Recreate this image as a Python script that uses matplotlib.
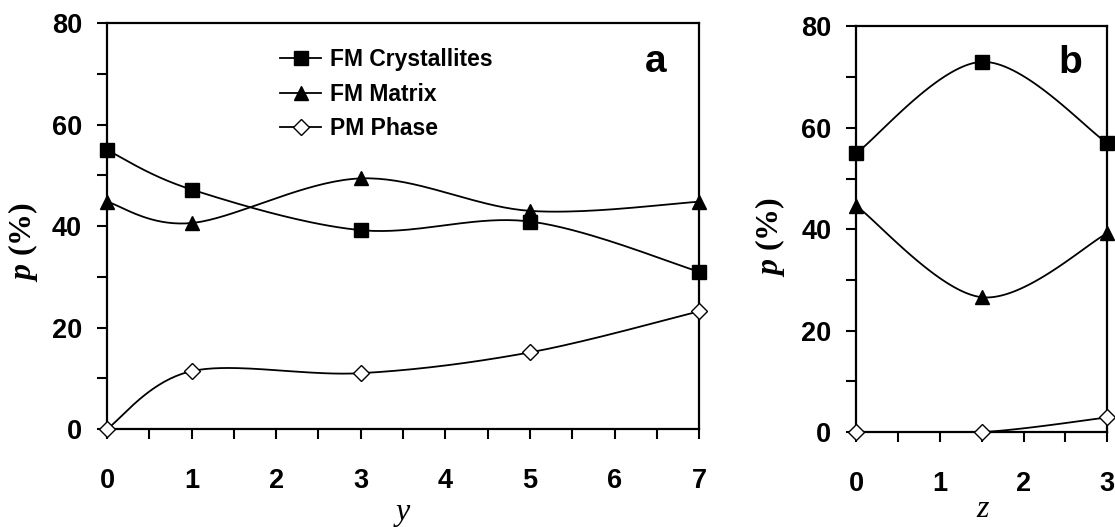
import numpy as np
import matplotlib
matplotlib.use("Agg")
import matplotlib.pyplot as plt
from matplotlib.font_manager import FontProperties

# panel a: composition y
y_vals = [0, 1, 3, 5, 7]
a_crystallites = [55.0, 47.2, 39.2, 40.9, 31.0]
a_matrix = [44.8, 40.6, 49.4, 43.0, 44.8]
a_pm = [0.0, 11.4, 11.0, 15.1, 23.2]

# panel b: composition z
z_vals = [0, 1.5, 3]
b_crystallites = [55.0, 73.0, 57.0]
b_matrix = [44.6, 26.6, 39.2]
b_pm = [0.0, 0.0, 2.9]

labels = ["FM Crystallites", "FM Matrix", "PM Phase"]


def smooth(xs, ys, n=40):
    # spreadsheet-style smoothed line: cubic Bezier through every point
    p = np.column_stack([xs, ys]).astype(float)
    out = [p[:1]]
    t = np.linspace(0, 1, n)[1:, None]
    for i in range(len(p) - 1):
        p0 = p[i - 1] if i > 0 else p[i]
        p3 = p[i + 2] if i + 2 < len(p) else p[i + 1]
        c1 = p[i] + (p[i + 1] - p0) / 6
        c2 = p[i + 1] - (p3 - p[i]) / 6
        seg = ((1 - t) ** 3 * p[i] + 3 * (1 - t) ** 2 * t * c1
               + 3 * (1 - t) * t ** 2 * c2 + t ** 3 * p[i + 1])
        out.append(seg)
    pts = np.vstack(out)
    return pts[:, 0], pts[:, 1]


styles = [
    dict(marker="s", mfc="black", mec="black", ms=10.5),
    dict(marker="^", mfc="black", mec="black", ms=10.5),
    dict(marker="D", mfc="white", mec="black", ms=8, mew=1.0),
]

tick_font = FontProperties(family="Liberation Sans", weight="bold", size=19.5)

plt.rcParams["mathtext.fontset"] = "custom"
plt.rcParams["mathtext.bfit"] = "Liberation Serif:italic:bold"

fig = plt.figure(figsize=(11.15, 5.27), dpi=100)
ax_a = fig.add_axes([0.096, 0.186, 0.531, 0.770])
ax_b = fig.add_axes([0.768, 0.180, 0.225, 0.770])


def draw(ax, xs, series, xmax, ylab_pos):
    handles = []
    for ys, st in zip(series, styles):
        sx, sy = smooth(xs, ys)
        ax.plot(sx, sy, color="black", lw=1.3, zorder=2)
        ax.plot(xs, ys, ls="none", zorder=4, clip_on=False, **st)
        h, = ax.plot([], [], color="black", lw=1.3, **st)
        handles.append(h)
    ax.set_xlim(0, xmax)
    ax.set_ylim(0, 80)
    ax.set_yticks(np.arange(0, 81, 20))
    ax.set_yticks(np.arange(0, 81, 10), minor=True)
    ax.set_xticks(np.arange(0, xmax + 0.1, 1))
    ax.set_xticks(np.arange(0, xmax + 0.1, 0.5), minor=True)
    ax.tick_params(which="both", direction="out", length=7, width=1.5)
    ax.tick_params(axis="x", which="major", pad=21)
    ax.tick_params(axis="y", which="major", pad=11)
    for lab in ax.get_xticklabels() + ax.get_yticklabels():
        lab.set_fontproperties(tick_font)
    for sp in ax.spines.values():
        sp.set_linewidth(1.6)
    ax.set_ylabel("$\\mathbfit{p}$ (%)", family="Liberation Serif",
                  weight="bold", size=23, va="center")
    ax.yaxis.set_label_coords(*ylab_pos)
    return handles


handles = draw(ax_a, y_vals, [a_crystallites, a_matrix, a_pm], 7, (-0.142, 0.46))
draw(ax_b, z_vals, [b_crystallites, b_matrix, b_pm], 3, (-0.343, 0.48))

ax_a.set_xlabel("y", family="Liberation Serif", style="italic", size=23, va="center")
ax_a.xaxis.set_label_coords(0.5, -0.205)
ax_b.set_xlabel("z", family="Liberation Serif", style="italic", size=23, va="center")
ax_b.xaxis.set_label_coords(0.504, -0.19)

ax_a.legend(handles, labels, loc="upper left", bbox_to_anchor=(0.272, 0.966),
            frameon=False, borderpad=0, handlelength=1.83, handletextpad=0.39,
            labelspacing=0.5, prop=dict(family="Liberation Sans", weight="bold", size=16.5))

ax_a.text(0.926, 0.904, "a", transform=ax_a.transAxes, ha="center", va="center",
          family="Liberation Sans", weight="bold", size=28)
ax_b.text(0.853, 0.909, "b", transform=ax_b.transAxes, ha="center", va="center",
          family="Liberation Sans", weight="bold", size=28)

fig.savefig("out.png", dpi=100)
